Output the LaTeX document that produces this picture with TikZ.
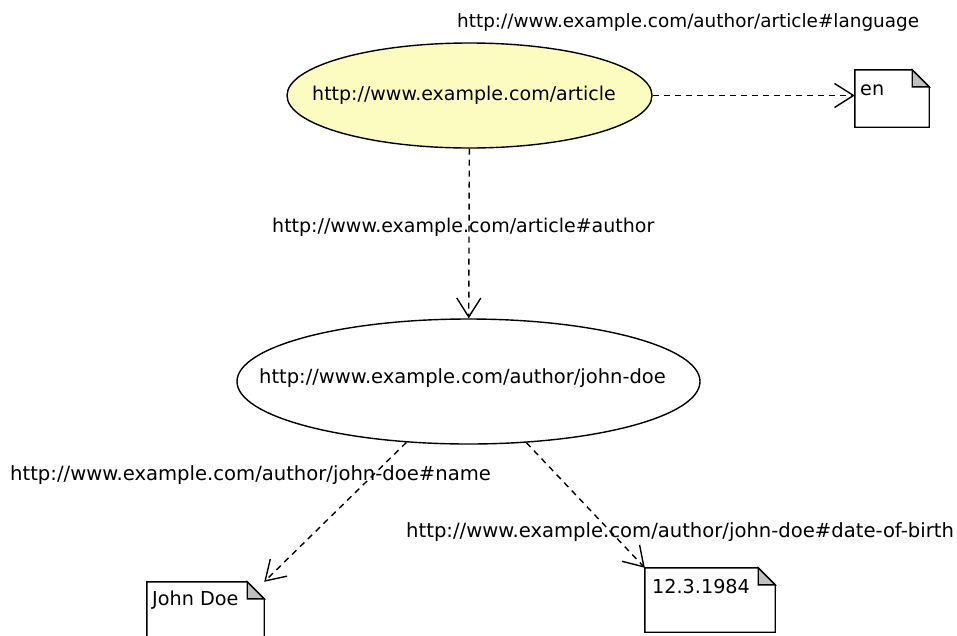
\documentclass[tikz,border=0pt]{standalone}
\usepackage{fontspec}
\setmainfont{DejaVu Sans}
\usetikzlibrary{arrows.meta,calc,shapes.geometric}
\definecolor{resfill}{RGB}{252,252,192}
\definecolor{foldgray}{RGB}{192,192,192}
\tikzset{
  resource/.style={ellipse, draw, line width=1.4pt, inner sep=0pt},
  txt/.style={anchor=base west, inner sep=0pt, font=\fontsize{#1}{22}\selectfont},
  notebox/.style={rectangle, draw=none, fill=white, inner sep=0pt},
  rel/.style={line width=1.4pt, dash pattern=on 6pt off 5pt, -{Straight Barb[length=19pt,width=24pt,line width=1.4pt]}},
  noteline/.style={line width=1.4pt, line join=miter},
  fold/.style={line width=1.4pt, fill=foldgray, line join=miter}
}
\begin{document}
\begin{tikzpicture}[x=1pt,y=-1pt]
\useasboundingbox (0,0) rectangle (957,635);
% resources
\node[resource, fill=resfill, minimum width=365pt, minimum height=105pt] (art) at (469.5,95.5) {};
\node[txt=19.0] (arttext) at (312,100) {http://www.example.com/article};
\node[resource, fill=white, minimum width=463pt, minimum height=125pt] (jd) at (468.5,381.5) {};
\node[txt=19.5] (jdtext) at (259,383) {http://www.example.com/author/john-doe};
% notes
\node[notebox, minimum width=74pt, minimum height=57pt] (en) at (892,98.5) {};
\node[notebox, minimum width=117pt, minimum height=60pt] (name) at (205.5,612) {};
\node[notebox, minimum width=130pt, minimum height=64pt] (dob) at (710,600) {};
\foreach \n in {en,name,dob}{
  \draw[noteline] (\n.north west) -- ($(\n.north east)+(-17,0)$) -- ($(\n.north east)+(0,17)$) -- (\n.south east) -- (\n.south west) -- cycle;
  \draw[fold] ($(\n.north east)+(-17,0)$) -- ($(\n.north east)+(0,17)$) -- ($(\n.north east)+(-17,17)$) -- cycle;
}
\node[txt=19.2] (entext) at (860,95) {en};
\node[txt=19.2] (nametext) at (152,605) {John Doe};
\node[txt=19.2] (dobtext) at (652,593) {12.3.1984};
% property labels
\node[txt=18.4] (lang) at (457,27) {http://www.example.com/author/article\#language};
\node[txt=19.0] (auth) at (272,232) {http://www.example.com/article\#author};
\node[txt=19.6] (nm) at (10,480) {http://www.example.com/author/john-doe\#name};
\node[txt=19.6] (bd) at (406,537) {http://www.example.com/author/john-doe\#date-of-birth};
% relations
\draw[rel] (art.east) -- (art.east -| en.west);
\draw[rel] (art) -- (jd);
\draw[rel] (jd) -- (name.north east);
\draw[rel] (jd) -- (dob.north west);
\end{tikzpicture}
\end{document}
